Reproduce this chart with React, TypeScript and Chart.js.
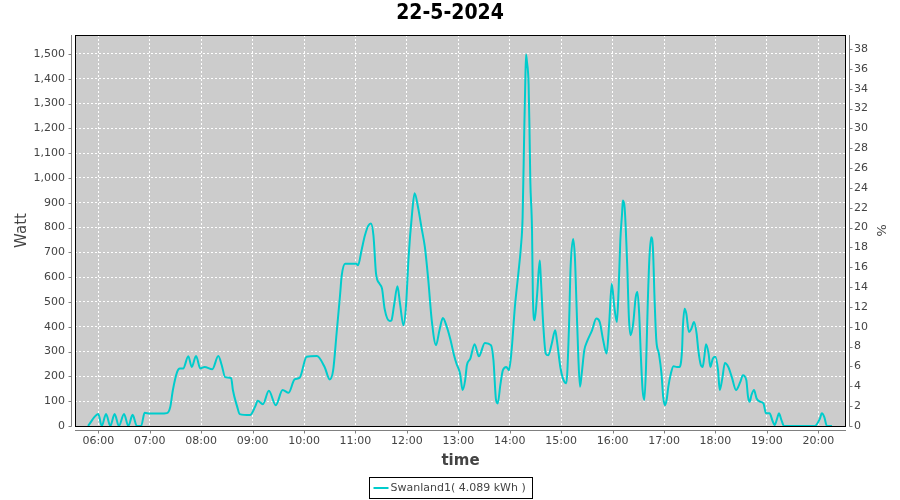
import React, { useEffect, useRef } from "react";
import { Chart, registerables } from "chart.js";

Chart.register(...registerables);

const TITLE = "22-5-2024";
const SERIES_LABEL = "Swanland1( 4.089 kWh )";
const X_TITLE = "time";
const Y_TITLE = "Watt";
const Y1_TITLE = "%";

// minutes since midnight
const minutes = [
  348, 360, 364, 369, 374, 379, 384, 390, 395, 400, 405, 410, 414, 420, 432, 440, 444, 447, 452, 455,
  459, 465, 469, 474, 479, 484, 493, 500, 504, 508, 515, 517, 522, 525, 537, 543, 546, 552, 559, 567,
  575, 582, 589, 595, 603, 615, 624, 630, 634, 638, 642, 644, 648, 661, 663, 667, 671, 675, 678, 681,
  684, 688, 691, 694, 700, 702, 705, 709, 712, 716, 719, 722, 726, 729, 733, 737, 741, 745, 749, 754,
  758, 762, 766, 771, 775, 778, 782, 785, 788, 790, 794, 799, 804, 811, 818, 821, 824, 826, 829, 832,
  836, 839, 842, 846, 850, 853, 855, 857, 858, 859, 860, 862, 863, 864, 866, 867, 869, 872, 875, 876,
  879, 882, 885, 889, 893, 895, 899, 902, 906, 909, 911, 914, 916, 918, 920, 922, 924, 927, 930, 936,
  941, 945, 949, 953, 956, 959, 962, 965, 967, 969, 971, 972, 974, 977, 979, 981, 984, 987, 989, 991,
  993, 995, 997, 999, 1001, 1003, 1005, 1007, 1009, 1011, 1014, 1017, 1019, 1021, 1023, 1025, 1028, 1031, 1035, 1038,
  1041, 1042, 1044, 1046, 1049, 1052, 1055, 1058, 1060, 1063, 1065, 1067, 1069, 1072, 1074, 1077, 1080, 1083, 1085, 1088,
  1091, 1095, 1099, 1104, 1109, 1112, 1116, 1118, 1120, 1122, 1125, 1128, 1132, 1136, 1139, 1143, 1147, 1149, 1152, 1154,
  1157, 1160, 1196, 1202, 1204, 1207, 1210, 1216,
];

const watts = [
  0, 48, 0, 48, 0, 48, 0, 48, 0, 45, 0, 0, 53, 50, 50, 52, 78, 145, 218, 232,
  232, 281, 238, 282, 232, 238, 229, 282, 245, 197, 193, 145, 78, 48, 44, 78, 102, 88, 142, 84,
  145, 134, 188, 195, 279, 282, 238, 188, 225, 374, 527, 607, 654, 654, 648, 707, 768, 808, 817, 768,
  614, 574, 554, 473, 423, 426, 486, 563, 493, 406, 486, 681, 855, 938, 882, 801, 721, 587, 426, 326,
  386, 435, 406, 346, 285, 250, 212, 145, 185, 245, 272, 330, 281, 335, 326, 265, 105, 91, 165, 225,
  238, 225, 299, 480, 614, 721, 841, 1203, 1364, 1498, 1471, 1378, 1203, 989, 788, 520, 426, 533, 667, 614,
  413, 292, 285, 332, 386, 346, 238, 192, 172, 386, 640, 754, 681, 480, 279, 158, 212, 306, 339, 386,
  433, 419, 346, 292, 413, 574, 480, 419, 547, 748, 855, 909, 882, 654, 439, 366, 413, 520, 540, 453,
  279, 145, 105, 238, 493, 681, 761, 721, 507, 346, 292, 212, 118, 84, 105, 158, 212, 241, 238, 238,
  306, 399, 473, 453, 379, 393, 419, 373, 306, 245, 238, 279, 330, 292, 238, 272, 279, 225, 145, 192,
  254, 238, 198, 145, 178, 205, 185, 118, 98, 125, 145, 111, 98, 91, 51, 51, 17, 4, 31, 51,
  24, 0, 0, 31, 51, 36, 0, 0,
];

const hourTicks = [
  "06:00", "07:00", "08:00", "09:00", "10:00", "11:00", "12:00", "13:00",
  "14:00", "15:00", "16:00", "17:00", "18:00", "19:00", "20:00",
];
const wattTicks = [0, 100, 200, 300, 400, 500, 600, 700, 800, 900, 1000, 1100, 1200, 1300, 1400, 1500];
const percentTicks = [0, 2, 4, 6, 8, 10, 12, 14, 16, 18, 20, 22, 24, 26, 28, 30, 32, 34, 36, 38];

const X_MIN = 332.8;
const X_MAX = 1232.3;
const WATT_MAX = 1576.6;
const WATT_PER_PERCENT = 40;

const LINE_COLOR = "#00CCCC";
const PLOT_BG = "#CCCCCC";
const AXIS_GRAY = "#808080";
const TEXT_GRAY = "#444444";
const FONT = "'DejaVu Sans', 'Liberation Sans', sans-serif";

const toMin = (s: string) => {
  const [h, m] = s.split(":").map(Number);
  return h * 60 + m;
};
const fmtTime = (v: number) => {
  const h = Math.floor(v / 60);
  const m = Math.round(v - h * 60);
  return String(h).padStart(2, "0") + ":" + String(m).padStart(2, "0");
};

const decorPlugin = {
  id: "decor",
  beforeDraw(chart: any) {
    const { ctx, chartArea: a } = chart;
    ctx.save();
    ctx.fillStyle = PLOT_BG;
    ctx.fillRect(a.left, a.top, a.right - a.left, a.bottom - a.top);
    ctx.restore();
  },
  afterDatasetsDraw(chart: any) {
    const { ctx, chartArea: a, scales } = chart;
    ctx.save();
    // plot outline
    ctx.strokeStyle = "#000000";
    ctx.lineWidth = 1;
    ctx.strokeRect(a.left + 0.5, a.top + 0.5, a.right - a.left - 1, a.bottom - a.top);

    // offset axis lines
    ctx.strokeStyle = AXIS_GRAY;
    ctx.beginPath();
    const lx = a.left - 3.5;
    ctx.moveTo(lx, a.top);
    ctx.lineTo(lx, a.bottom + 0.5);
    for (const t of wattTicks) {
      const y = Math.round(scales.y.getPixelForValue(t)) + 0.5;
      ctx.moveTo(lx, y);
      ctx.lineTo(lx - 3, y);
    }
    const rx = a.right + 3.5;
    ctx.moveTo(rx, a.top);
    ctx.lineTo(rx, a.bottom + 0.5);
    for (const t of percentTicks) {
      const y = Math.round(scales.y1.getPixelForValue(t)) + 0.5;
      ctx.moveTo(rx, y);
      ctx.lineTo(rx + 3, y);
    }
    const by = a.bottom + 4.5;
    ctx.moveTo(a.left, by);
    ctx.lineTo(a.right, by);
    for (const t of hourTicks) {
      const x = Math.round(scales.x.getPixelForValue(toMin(t))) + 0.5;
      ctx.moveTo(x, by);
      ctx.lineTo(x, by + 3);
    }
    ctx.stroke();

    // title
    ctx.fillStyle = "#000000";
    ctx.font = "bold 21px 'DejaVu Sans Condensed', 'DejaVu Sans', sans-serif";
    ctx.textAlign = "center";
    ctx.textBaseline = "middle";
    ctx.fillText(TITLE, 450, 14);

    // legend
    ctx.font = "11px " + FONT;
    const tw = ctx.measureText(SERIES_LABEL).width;
    const boxW = Math.round(tw + 28);
    const boxX = Math.round(450 - boxW / 2) + 0.5;
    const boxY = 477.5;
    const boxH = 21;
    ctx.strokeStyle = "#000000";
    ctx.lineWidth = 1;
    ctx.strokeRect(boxX, boxY, boxW, boxH);
    ctx.strokeStyle = LINE_COLOR;
    ctx.lineWidth = 2;
    ctx.beginPath();
    ctx.moveTo(boxX + 4, boxY + boxH / 2);
    ctx.lineTo(boxX + 19, boxY + boxH / 2);
    ctx.stroke();
    ctx.fillStyle = TEXT_GRAY;
    ctx.textAlign = "left";
    ctx.textBaseline = "middle";
    ctx.fillText(SERIES_LABEL, boxX + 21, boxY + boxH / 2 + 0.5);
    ctx.restore();
  },
};

export default function App() {
  const ref = useRef<HTMLCanvasElement>(null);

  useEffect(() => {
    const canvas = ref.current;
    if (!canvas) return;
    const points = minutes.map((m, i) => ({ x: m, y: watts[i] }));
    const gridCommon = {
      color: "#FFFFFF",
      lineWidth: 1,
      drawTicks: false,
    };
    const chart = new Chart(canvas, {
      type: "line",
      data: {
        datasets: [
          {
            label: SERIES_LABEL,
            data: points,
            borderColor: LINE_COLOR,
            backgroundColor: LINE_COLOR,
            borderWidth: 2,
            pointRadius: 0,
            fill: false,
            cubicInterpolationMode: "monotone",
            yAxisID: "y",
          },
        ],
      },
      options: {
        animation: false,
        responsive: false,
        devicePixelRatio: 1,
        layout: { padding: { top: 35, left: 0, right: 0, bottom: 30 } },
        plugins: {
          legend: { display: false },
          title: { display: false },
          tooltip: { enabled: false },
        },
        scales: {
          x: {
            type: "linear",
            min: X_MIN,
            max: X_MAX,
            afterBuildTicks: (s: any) => {
              s.ticks = hourTicks.map((t) => ({ value: toMin(t) }));
            },
            afterFit: (s: any) => {
              s.height = 44;
            },
            ticks: {
              callback: (v: any) => fmtTime(Number(v)),
              color: TEXT_GRAY,
              font: { family: FONT, size: 11 },
              padding: 9,
              maxRotation: 0,
              autoSkip: false,
            },
            grid: gridCommon,
            border: { display: false, dash: [2, 2] },
            title: {
              display: true,
              text: X_TITLE,
              color: TEXT_GRAY,
              font: { family: FONT, size: 15, weight: "bold" },
              padding: { top: 0, bottom: 0 },
            },
          },
          y: {
            position: "left",
            min: 0,
            max: WATT_MAX,
            afterBuildTicks: (s: any) => {
              s.ticks = wattTicks.map((v) => ({ value: v }));
            },
            afterFit: (s: any) => {
              s.width = 75;
            },
            ticks: {
              callback: (v: any) => Number(v).toLocaleString("en-US"),
              color: TEXT_GRAY,
              font: { family: FONT, size: 11 },
              padding: 10,
              autoSkip: false,
            },
            grid: gridCommon,
            border: { display: false, dash: [2, 2] },
            title: {
              display: true,
              text: Y_TITLE,
              color: TEXT_GRAY,
              font: { family: FONT, size: 15 },
              padding: { top: 13, bottom: 0 },
            },
          },
          y1: {
            position: "right",
            min: 0,
            max: WATT_MAX / WATT_PER_PERCENT,
            afterBuildTicks: (s: any) => {
              s.ticks = percentTicks.map((v) => ({ value: v }));
            },
            afterFit: (s: any) => {
              s.width = 54;
            },
            ticks: {
              callback: (v: any) => String(v),
              color: TEXT_GRAY,
              font: { family: FONT, size: 11 },
              padding: 8,
              autoSkip: false,
            },
            grid: { display: false, drawTicks: false },
            border: { display: false },
            title: {
              display: true,
              text: Y1_TITLE,
              color: TEXT_GRAY,
              font: { family: FONT, size: 13 },
              padding: { top: 12, bottom: 0 },
            },
          },
        },
      },
      plugins: [decorPlugin],
    } as any);
    return () => chart.destroy();
  }, []);

  return (
    <div style={{ position: "absolute", left: 0, top: 0, width: 900, height: 500, background: "#FFFFFF" }}>
      <canvas ref={ref} width={900} height={500} style={{ display: "block", width: 900, height: 500 }} />
    </div>
  );
}
